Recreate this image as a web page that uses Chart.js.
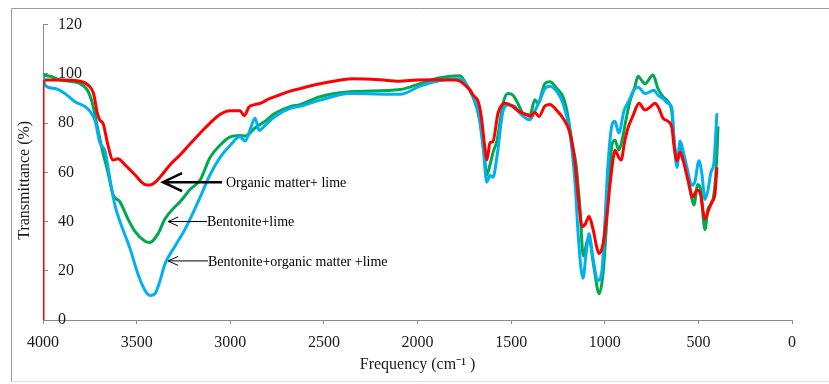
<!DOCTYPE html>
<html>
<head>
<meta charset="utf-8">
<script src="https://cdn.jsdelivr.net/npm/chart.js@4/dist/chart.umd.min.js"></script>
<style>
  html, body { margin: 0; padding: 0; background: #fff; }
  #wrap { position: relative; width: 829px; height: 384px; }
  canvas { display: block; }
</style>
</head>
<body>
<div id="wrap"><canvas id="c" width="829" height="384"></canvas></div>
<script>
// ---- Data ----
const xTicks = [4000, 3500, 3000, 2500, 2000, 1500, 1000, 500, 0];
const yTicks = [0, 20, 40, 60, 80, 100, 120];

// Organic matter + lime (red)
const redFreq = [3990,3900,3800,3760,3730,3710,3695,3680,3653,3626,3600,3562,3509,3455,3430,3400,3370,3322,3268,3215,3160,3108,3055,3000,2948,2925,2900,2870,2840,2788,2735,2680,2627,2547,2450,2350,2200,2100,2000,1917,1800,1773,1740,1720,1700,1677,1660,1640,1629,1613,1597,1570,1533,1496,1464,1416,1400,1373,1351,1319,1293,1255,1223,1186,1159,1143,1120,1105,1084,1063,1041,1030,1009,988,972,956,946,925,912,895,876,849,817,785,759,732,711,689,662,641,630,614,598,582,556,529,508,492,465,449,428,412,401];
const redT = [97.5,97.5,97,95.5,92,84,81,80,71,65,65.5,63,59,55,54.8,56,58.5,63,67,71.5,76,80,83.5,85,85,83,86.5,87.5,88,90,91.5,93,94,95.6,97,98,97.6,97,97.5,97.6,97.5,97,95,93.5,91,89,83,70,65,72,72.5,84,88,87,85,83.3,82.7,84.3,82.7,87,87.5,85,82,76,64,51,38,38.8,42,37,29,27,31,43,55,65,69,66,65,72,78,83,88,85.3,86.4,88,86,82,80.7,78,70.7,64.7,68,65,57,50,52.7,52,41,44,48,51,62];
const redEdgeFreq = [4000, 4000];
const redEdgeT = [0, 97.5];

// Bentonite + lime (green)
const greenFreq = [4000,3960,3909,3802,3760,3733,3706,3680,3653,3626,3589,3546,3509,3455,3429,3386,3349,3295,3268,3215,3160,3108,3055,3000,2948,2920,2868,2815,2761,2680,2627,2520,2360,2093,1987,1880,1773,1741,1704,1667,1645,1630,1613,1597,1575,1543,1517,1490,1464,1437,1400,1373,1357,1320,1293,1255,1223,1202,1170,1153,1132,1115,1094,1084,1057,1030,1009,993,977,962,945,925,905,890,865,840,822,800,785,742,716,689,662,641,630,614,598,582,561,540,524,503,487,465,449,422,406,395];
const greenT = [99.5,99,97.5,96,93,87,77,68,60,51,48,41,36,32,31.5,35,41,46,48,53,57,66,71,74.4,75,74.7,78,80.7,84,86.7,87.5,90.7,92.7,93.6,96,98.4,99.2,96,90.7,81,68,59,63,68,73,88,92,91.3,88,84,83.3,89.5,88,96,96.8,94,90.7,85,70,63,45,26,32,33,21,10.7,19,36,56,71,73,69,74,80,89,94.5,99,97,96,99.5,94,90.7,88.7,84,73,64,70,65.3,60,51,46.7,55,52.7,36.7,45,49,60,78.7];

// Bentonite + organic matter + lime (blue)
const blueFreq = [4000,3990,3936,3883,3829,3776,3749,3722,3696,3669,3642,3616,3589,3535,3493,3455,3429,3402,3375,3349,3295,3242,3160,3108,3055,3000,2948,2920,2895,2868,2845,2815,2761,2680,2627,2520,2360,2093,1987,1880,1773,1720,1677,1650,1630,1613,1597,1575,1543,1517,1480,1453,1400,1373,1346,1320,1293,1255,1223,1186,1159,1143,1127,1116,1100,1084,1063,1036,1015,999,983,962,946,925,897,871,844,822,785,759,737,716,689,662,641,630,614,598,582,561,535,519,497,481,465,449,433,417,401];
const blueT = [99.5,95.5,94,92,88.7,86.7,84.7,81,72,68.7,57,46.7,40,29,18.7,12,10,10.7,16,22.7,30,36.8,50,59,66,71,74.4,72.7,77,82,77,79,82.7,86,86.8,89.3,92,91.7,95,97.3,98,93,85,70.7,56,58.7,58,66.7,85,87.3,86.7,84,81.3,85,89.3,94,95,92.7,88,76,56,36,21,17,26.7,35,25,16,20,40,62.7,79,80.7,76,85,89,93.5,94.5,92,92.7,93.3,91.3,90,88,86,73.3,62,72.7,68.7,62,54.7,56,64.7,59.3,49,52.7,60,64,84];

const seriesNames = ['Organic matter+ lime', 'Bentonite+lime', 'Bentonite+organic matter +lime'];

// ---- helpers ----
const toPts = (xs, ys) => xs.map((x, i) => ({ x: x, y: ys[i] }));

const RED = '#ff0000', GREEN = '#00a84f', BLUE = '#00b0f0';
const SERIF = "'Liberation Serif', 'Times New Roman', serif";

// annotation layout (arrow tip / tail / label start, in data coords)
const notes = [
  { text: seriesNames[0], tip: [3359, 56], tail: 3044, textX: 3023, thick: true },
  { text: seriesNames[1], tip: [3332, 40], tail: 3124, textX: 3124, thick: false },
  { text: seriesNames[2], tip: [3332, 24], tail: 3119, textX: 3119, thick: false }
];

const annotationPlugin = {
  id: 'notes',
  afterDatasetsDraw(chart) {
    const ctx = chart.ctx, xs = chart.scales.x, ys = chart.scales.y;
    ctx.save();
    notes.forEach(n => {
      const tx = xs.getPixelForValue(n.tip[0]);
      const ty = ys.getPixelForValue(n.tip[1]);
      const ex = xs.getPixelForValue(n.tail);
      ctx.strokeStyle = '#000';
      ctx.lineWidth = n.thick ? 2.5 : 1;
      ctx.lineCap = 'butt';
      ctx.beginPath();
      ctx.moveTo(tx, ty); ctx.lineTo(ex, ty);
      const hx = n.thick ? 19 : 10, hy = n.thick ? 9 : 4.5;
      ctx.moveTo(tx + hx, ty - hy); ctx.lineTo(tx, ty); ctx.lineTo(tx + hx, ty + hy);
      ctx.stroke();
      ctx.fillStyle = '#000';
      ctx.font = '14px ' + SERIF;
      ctx.textAlign = 'left';
      ctx.textBaseline = 'middle';
      ctx.fillText(n.text, xs.getPixelForValue(n.textX), ty + 1);
    });
    ctx.restore();
  }
};

const framePlugin = {
  id: 'frame',
  beforeDraw(chart) {
    const ctx = chart.ctx;
    ctx.save();
    ctx.fillStyle = '#fff';
    ctx.fillRect(0, 0, chart.width, chart.height);
    ctx.strokeStyle = '#9a9a9a';
    ctx.lineWidth = 1;
    ctx.beginPath();
    ctx.moveTo(11.5, 382); ctx.lineTo(11.5, 8.5); ctx.lineTo(829, 8.5);
    ctx.stroke();
    ctx.strokeStyle = '#e2e2e2';
    ctx.beginPath();
    ctx.moveTo(11.5, 381.5); ctx.lineTo(829, 381.5);
    ctx.stroke();
    ctx.restore();
  }
};

const lineDs = (label, pts, color, tension) => ({
  label: label,
  data: pts,
  borderColor: color,
  backgroundColor: color,
  borderWidth: 3,
  pointRadius: 0,
  fill: false,
  tension: tension,
  cubicInterpolationMode: tension ? 'monotone' : 'default'
});

new Chart(document.getElementById('c'), {
  type: 'line',
  data: {
    datasets: [
      lineDs(seriesNames[0], toPts(redFreq, redT), RED, 0.4),
      lineDs(seriesNames[0] + ' edge', toPts(redEdgeFreq, redEdgeT), RED, 0),
      lineDs(seriesNames[2], toPts(blueFreq, blueT), BLUE, 0.4),
      lineDs(seriesNames[1], toPts(greenFreq, greenT), GREEN, 0.4)
    ]
  },
  options: {
    responsive: false,
    animation: false,
    events: [],
    parsing: true,
    layout: { padding: { left: 0, right: 37, top: 20, bottom: 0 } },
    plugins: { legend: { display: false }, tooltip: { enabled: false }, title: { display: false } },
    scales: {
      x: {
        type: 'linear',
        position: 'bottom',
        min: 0, max: 4000,
        reverse: true,
        afterBuildTicks: s => { s.ticks = xTicks.map(v => ({ value: v })); },
        ticks: { color: '#1a1a1a', font: { family: SERIF, size: 16 }, padding: 9, maxRotation: 0, autoSkip: false, callback: v => String(v) },
        grid: { drawOnChartArea: false, drawTicks: true, tickLength: 4, color: '#8a8a8a' },
        border: { display: true, color: '#8a8a8a', width: 1 },
        title: { display: true, text: 'Frequency (cm\u207B\u00B9 )', color: '#1a1a1a', font: { family: SERIF, size: 16 }, padding: { top: 0, bottom: 10 } },
        afterFit: s => { s.height = 64; }
      },
      y: {
        type: 'linear',
        position: 'left',
        min: 0, max: 120,
        afterBuildTicks: s => { s.ticks = yTicks.map(v => ({ value: v })); },
        ticks: { mirror: true, padding: 15, color: '#1a1a1a', font: { family: SERIF, size: 16 }, callback: v => String(v) },
        grid: { drawOnChartArea: false, drawTicks: true, tickLength: -5, color: '#8a8a8a' },
        border: { display: true, color: '#8a8a8a', width: 1 },
        title: { display: true, text: 'Transmittance (%)    ', color: '#1a1a1a', font: { family: SERIF, size: 16 }, padding: { top: 15, bottom: 0 } },
        afterFit: s => { s.width = 43; }
      }
    }
  },
  plugins: [framePlugin, annotationPlugin]
});
</script>
</body>
</html>
